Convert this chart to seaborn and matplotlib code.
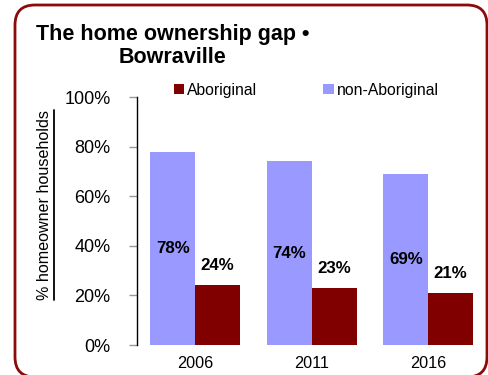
import matplotlib
matplotlib.use("Agg")
import matplotlib.pyplot as plt
from matplotlib.patches import FancyBboxPatch, Patch
from matplotlib.lines import Line2D
from matplotlib.ticker import PercentFormatter
import seaborn as sns
import pandas as pd

# Census years and homeowner shares (%)
years = ["2006", "2011", "2016"]
aboriginal = [24, 23, 21]
non_aboriginal = [78, 74, 69]
groups = ["non-Aboriginal", "Aboriginal"]
colors = {"non-Aboriginal": "#9999FF", "Aboriginal": "#800000"}

df = pd.DataFrame({
    "year": years * 2,
    "group": ["non-Aboriginal"] * 3 + ["Aboriginal"] * 3,
    "value": non_aboriginal + aboriginal,
})

sns.set_theme(style="white")
plt.rcParams["font.family"] = ["Liberation Sans", "DejaVu Sans"]
plt.rcParams["text.color"] = "black"
plt.rcParams["axes.labelcolor"] = "black"
plt.rcParams["xtick.color"] = "black"
plt.rcParams["ytick.color"] = "black"

fig = plt.figure(figsize=(4.88, 3.75), dpi=100)
ax = fig.add_axes([137 / 488, 30 / 375, 349.5 / 488, 248 / 375])

sns.barplot(data=df, x="year", y="value", hue="group", hue_order=groups,
            palette=colors, width=0.77, saturation=1, ax=ax, legend=False,
            edgecolor="none", linewidth=0, errorbar=None)

ax.set_ylim(0, 100)
ax.set_yticks([0, 20, 40, 60, 80, 100])
ax.yaxis.set_major_formatter(PercentFormatter(decimals=0))
ax.set_xlabel("")
ax.set_ylabel("")
ax.tick_params(axis="y", which="both", left=True, length=6, width=1,
               color="#999999", labelcolor="black", labelsize=13, pad=13,
               direction="out")
ax.tick_params(axis="x", length=0, labelsize=11.7, pad=8, labelcolor="black")
for side in ["top", "right", "bottom"]:
    ax.spines[side].set_visible(False)
ax.spines["left"].set_color("black")
ax.spines["left"].set_linewidth(1)

# Value labels
for container, grp in zip(ax.containers, groups):
    for bar in container:
        h = bar.get_height()
        x = bar.get_x() + bar.get_width() / 2
        if grp == "non-Aboriginal":
            y = h / 2
        else:
            y = h + 8
        ax.text(x, y, f"{h:.0f}%", ha="center", va="center",
                fontsize=12.2, fontweight="bold", color="black")

# Title
fig.text(173 / 488, 1 - 46 / 375, "The home ownership gap \u2022\nBowraville",
         ha="center", va="center", multialignment="center",
         fontsize=15.5, fontweight="bold", linespacing=1.15, color="black",
         family=["Liberation Sans", "DejaVu Sans"])

# Legend
handles = [Patch(facecolor=colors["Aboriginal"], edgecolor="none"),
           Patch(facecolor=colors["non-Aboriginal"], edgecolor="none")]
fig.legend(handles, ["Aboriginal", "non-Aboriginal"], loc="center left",
           bbox_to_anchor=(174 / 488, 1 - 90 / 375), ncol=2, frameon=False,
           fontsize=11.3, handlelength=0.65, handleheight=0.65,
           handletextpad=0.2, columnspacing=4.2, borderpad=0,
           borderaxespad=0, labelcolor="black")

# Y-axis label, underlined
ylab = fig.text(45 / 488, 1 - 205 / 375, "% homeowner households",
                rotation=90, ha="center", va="center", fontsize=11.6,
                color="black")
fig.canvas.draw()
bb = ylab.get_window_extent(fig.canvas.get_renderer())
ux = (bb.x1 + 1.5)
fig.add_artist(Line2D([ux, ux], [bb.y0, bb.y1], transform=None,
                      color="black", linewidth=1.3))

# Rounded frame
frame = FancyBboxPatch((15, -2), 472, 372,
                       boxstyle="round,pad=0,rounding_size=20",
                       transform=None, facecolor="none",
                       edgecolor="#8B0A0A", linewidth=2)
fig.add_artist(frame)

fig.savefig("out.png", dpi=100)
